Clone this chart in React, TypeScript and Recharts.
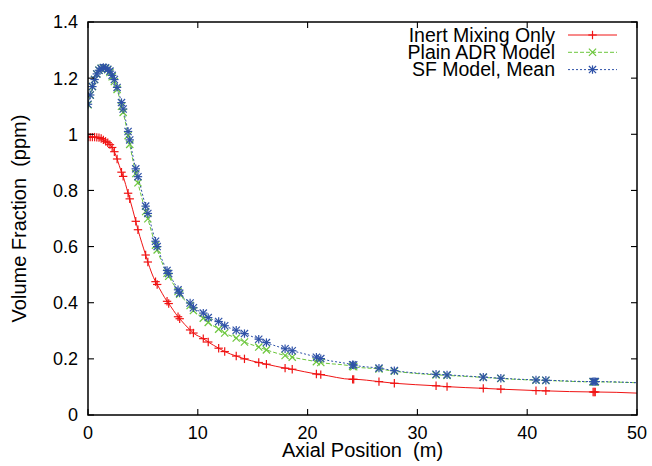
import React from 'react';
import { LineChart, Line, XAxis, YAxis, Legend } from 'recharts';

const xPositions = [
  0, 0.2, 0.4, 0.6, 0.8, 1.0, 1.2, 1.4, 1.6, 1.8, 2.0, 2.2, 2.4, 2.65, 3.05, 3.2, 3.65, 3.8, 4.35, 4.55,
  5.25, 5.45, 6.15, 6.3, 7.2, 7.35, 8.2, 8.35, 9.3, 9.6, 10.5, 10.95, 11.9, 12.45, 13.5, 14.25, 15.55, 16.25,
  17.95, 18.6, 20.8, 21.2, 24.1, 24.2, 26.5, 27.9, 31.7, 32.7, 36.0, 37.6, 40.8, 41.7, 46.0, 46.1, 46.2, 50,
];

const inertMixingOnly = [
  0.99, 0.99, 0.99, 0.99, 0.989, 0.988, 0.985, 0.98, 0.975, 0.97, 0.963, 0.953, 0.938, 0.912, 0.865, 0.85,
  0.79, 0.77, 0.69, 0.66, 0.57, 0.545, 0.475, 0.465, 0.405, 0.397, 0.35, 0.343, 0.303, 0.292, 0.272, 0.26,
  0.238, 0.226, 0.21, 0.2, 0.187, 0.181, 0.167, 0.163, 0.146, 0.144, 0.127, 0.127, 0.119, 0.113, 0.104,
  0.101, 0.095, 0.092, 0.087, 0.086, 0.082, 0.082, 0.082, 0.078,
];

const plainADRModel = [
  1.105, 1.14, 1.17, 1.195, 1.215, 1.228, 1.235, 1.237, 1.235, 1.23, 1.22, 1.205, 1.188, 1.16, 1.1, 1.078,
  0.995, 0.964, 0.86, 0.827, 0.725, 0.699, 0.605, 0.588, 0.505, 0.494, 0.44, 0.43, 0.39, 0.372, 0.345, 0.33,
  0.306, 0.292, 0.274, 0.26, 0.242, 0.232, 0.212, 0.206, 0.19, 0.187, 0.173, 0.172, 0.164, 0.156, 0.143,
  0.141, 0.134, 0.13, 0.124, 0.123, 0.118, 0.118, 0.118, 0.115,
];

const sfModelMean = [
  1.107, 1.14, 1.17, 1.195, 1.215, 1.228, 1.235, 1.238, 1.237, 1.232, 1.225, 1.21, 1.195, 1.167, 1.113, 1.09,
  1.01, 0.98, 0.877, 0.849, 0.744, 0.718, 0.619, 0.6, 0.515, 0.504, 0.446, 0.434, 0.399, 0.382, 0.363, 0.347,
  0.333, 0.318, 0.302, 0.29, 0.27, 0.258, 0.236, 0.229, 0.206, 0.201, 0.179, 0.178, 0.167, 0.158, 0.145,
  0.143, 0.135, 0.131, 0.125, 0.124, 0.119, 0.119, 0.119, 0.115,
];

const xTicks = [0, 10, 20, 30, 40, 50];
const yTicks = [0, 0.2, 0.4, 0.6, 0.8, 1, 1.2, 1.4];
const xMax = 50;
const yMax = 1.4;
const seriesNames = ['Inert Mixing Only', 'Plain ADR Model', 'SF Model, Mean'];
const xTitle = 'Axial Position  (m)';
const yTitle = 'Volume Fraction  (ppm)';

const FONT = '"Liberation Sans", Arial, Helvetica, sans-serif';
const TICK_FONT = 18;
const TITLE_FONT = 20;
const X_MARGIN = 11;
const Y_MARGIN = 10;
const TICK_LEN = 6;
const CHART_W = 652;
const CHART_H = 466;
const MARGIN = { top: 22, right: 15, bottom: 0, left: 0 };
const Y_AXIS_W = 88;
const X_AXIS_H = 51;

// plot area implied by the margins and axis sizes given to Recharts
const PLOT = {
  x: MARGIN.left + Y_AXIS_W,
  y: MARGIN.top,
  w: CHART_W - MARGIN.left - MARGIN.right - Y_AXIS_W,
  h: CHART_H - MARGIN.top - MARGIN.bottom - X_AXIS_H,
};

const toData = (vals: number[]) => xPositions.map((x, i) => ({ x, v: vals[i] }));

type MarkerKind = 'plus' | 'cross' | 'star';

const Marker = ({ cx, cy, kind, color }: { cx: number; cy: number; kind: MarkerKind; color: string }) => {
  const r = 4.2;
  const d = 3.6;
  const sw = 1.2;
  const plus = (
    <>
      <line x1={cx - r} y1={cy} x2={cx + r} y2={cy} stroke={color} strokeWidth={sw} />
      <line x1={cx} y1={cy - r} x2={cx} y2={cy + r} stroke={color} strokeWidth={sw} />
    </>
  );
  const cross = (
    <>
      <line x1={cx - d} y1={cy - d} x2={cx + d} y2={cy + d} stroke={color} strokeWidth={sw} />
      <line x1={cx - d} y1={cy + d} x2={cx + d} y2={cy - d} stroke={color} strokeWidth={sw} />
    </>
  );
  return (
    <g>
      {kind !== 'cross' ? plus : null}
      {kind !== 'plus' ? cross : null}
    </g>
  );
};

const series = [
  { name: seriesNames[0], values: inertMixingOnly, color: '#f01414', dash: undefined as string | undefined, kind: 'plus' as MarkerKind },
  { name: seriesNames[1], values: plainADRModel, color: '#6cc63c', dash: '4 2', kind: 'cross' as MarkerKind },
  { name: seriesNames[2], values: sfModelMean, color: '#2f52a8', dash: '2 2', kind: 'star' as MarkerKind },
];

const makeDot = (kind: MarkerKind, color: string) => (p: any) => {
  if (p.index === xPositions.length - 1 || p.cx == null || p.cy == null) {
    return <g key={`e-${kind}-${p.index}`} />;
  }
  return (
    <g key={`d-${kind}-${p.index}`}>
      <Marker cx={p.cx} cy={p.cy} kind={kind} color={color} />
    </g>
  );
};

const BottomTick = (props: any) => {
  const { x, y, payload } = props;
  return (
    <text x={x} y={y} dy="0.71em" textAnchor="middle" fontSize={TICK_FONT} fontFamily={FONT} fill="#000">
      {payload.value}
    </text>
  );
};

const LeftTick = (props: any) => {
  const { x, y, payload } = props;
  return (
    <text x={x} y={y} dy="0.355em" textAnchor="end" fontSize={TICK_FONT} fontFamily={FONT} fill="#000">
      {String(payload.value)}
    </text>
  );
};

// Border box with inward ticks on all four sides (gnuplot style), overlaid on the chart
function FrameOverlay() {
  const { x: x0, y: y0, w, h } = PLOT;
  const px = (t: number) => x0 + (t / xMax) * w;
  const py = (t: number) => y0 + h - (t / yMax) * h;
  return (
    <svg
      width={CHART_W}
      height={CHART_H}
      style={{ position: 'absolute', left: 0, top: 0, pointerEvents: 'none', zIndex: 5 }}
    >
      <path
        d={`M${x0},${y0} L${x0 + w},${y0} L${x0 + w},${y0 + h} L${x0},${y0 + h} Z`}
        fill="none"
        stroke="#000"
        strokeWidth={1.5}
      />
      {xTicks.map((t) => (
        <g key={`xt${t}`}>
          <line x1={px(t)} x2={px(t)} y1={y0} y2={y0 + TICK_LEN} stroke="#000" strokeWidth={1.1} />
          <line x1={px(t)} x2={px(t)} y1={y0 + h} y2={y0 + h - TICK_LEN} stroke="#000" strokeWidth={1.1} />
        </g>
      ))}
      {yTicks.map((t) => (
        <g key={`yt${t}`}>
          <line x1={x0} x2={x0 + TICK_LEN} y1={py(t)} y2={py(t)} stroke="#000" strokeWidth={1.1} />
          <line x1={x0 + w - TICK_LEN} x2={x0 + w} y1={py(t)} y2={py(t)} stroke="#000" strokeWidth={1.1} />
        </g>
      ))}
    </svg>
  );
}

const XTitle = (props: any) => {
  const vb = props.viewBox || {};
  return (
    <text
      x={vb.x + vb.width / 2}
      y={vb.y + 42}
      textAnchor="middle"
      fontSize={TITLE_FONT}
      fontFamily={FONT}
      fill="#000"
      style={{ whiteSpace: 'pre' }}
    >
      {xTitle}
    </text>
  );
};

const YTitle = (props: any) => {
  const vb = props.viewBox || {};
  const cx = vb.x + 26;
  const cy = vb.y + vb.height / 2;
  return (
    <text
      x={cx}
      y={cy}
      transform={`rotate(-90, ${cx}, ${cy})`}
      textAnchor="middle"
      fontSize={TITLE_FONT}
      fontFamily={FONT}
      fill="#000"
      style={{ whiteSpace: 'pre' }}
    >
      {yTitle}
    </text>
  );
};

const renderLegend = () => (
  <svg width={340} height={60} style={{ display: 'block', overflow: 'visible' }}>
    {series.map((s, i) => {
      const cy = 11 + i * 17.3;
      return (
        <g key={s.name}>
          <text x={255} y={cy} dy="0.35em" textAnchor="end" fontSize={19.5} fontFamily={FONT} fill="#000">
            {s.name}
          </text>
          <line x1={268} x2={317} y1={cy} y2={cy} stroke={s.color} strokeWidth={1} strokeDasharray={s.dash} />
          <Marker cx={292.5} cy={cy} kind={s.kind} color={s.color} />
        </g>
      );
    })}
  </svg>
);

export default function App() {
  return (
    <div style={{ position: 'absolute', left: 0, top: 0, width: CHART_W, height: CHART_H, background: '#fff' }}>
      <LineChart width={CHART_W} height={CHART_H} margin={MARGIN}>
        <XAxis
          xAxisId="bottom"
          type="number"
          dataKey="x"
          domain={[0, xMax]}
          ticks={xTicks}
          allowDataOverflow
          height={X_AXIS_H}
          tickSize={0}
          tickMargin={X_MARGIN}
          tickLine={false}
          axisLine={false}
          tick={<BottomTick />}
          label={<XTitle />}
        />
        <YAxis
          yAxisId="left"
          type="number"
          domain={[0, yMax]}
          ticks={yTicks}
          allowDataOverflow
          width={Y_AXIS_W}
          tickSize={0}
          tickMargin={Y_MARGIN}
          tickLine={false}
          axisLine={false}
          tick={<LeftTick />}
          label={<YTitle />}
        />
        {series.map((s) => (
          <Line
            key={s.name}
            name={s.name}
            xAxisId="bottom"
            yAxisId="left"
            data={toData(s.values)}
            dataKey="v"
            type="monotone"
            stroke={s.color}
            strokeWidth={1}
            strokeDasharray={s.dash}
            dot={makeDot(s.kind, s.color)}
            activeDot={false}
            isAnimationActive={false}
          />
        ))}
        <Legend
          layout="horizontal"
          verticalAlign="middle"
          align="center"
          wrapperStyle={{ left: 300, top: 24, width: 340, height: 60 }}
          content={renderLegend}
        />
      </LineChart>
      <FrameOverlay />
    </div>
  );
}
